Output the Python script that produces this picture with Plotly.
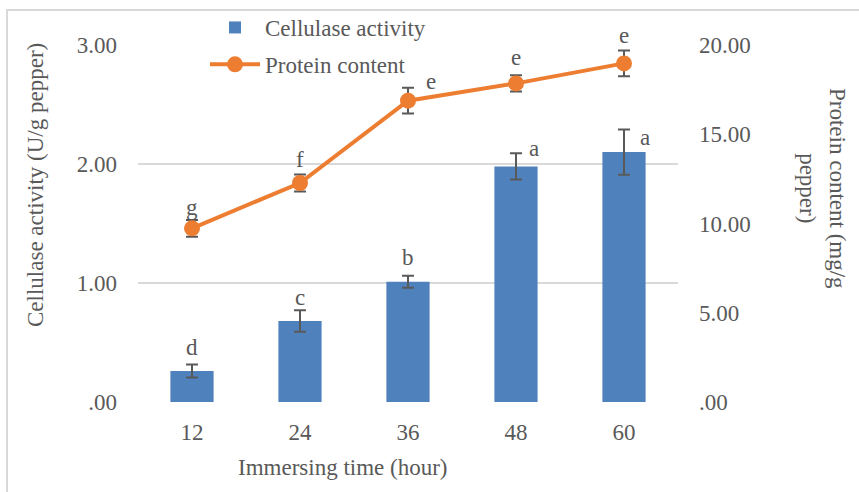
import plotly.graph_objects as go

# ---- data ----
hours = ["12", "24", "36", "48", "60"]
cellulase = [0.26, 0.68, 1.01, 1.98, 2.10]
cellulase_err = [0.055, 0.09, 0.05, 0.11, 0.19]
protein = [9.73, 12.27, 16.88, 17.85, 18.97]
protein_err = [0.47, 0.48, 0.72, 0.45, 0.72]
cellulase_letters = ["d", "c", "b", "a", "a"]
protein_letters = ["g", "f", "e", "e", "e"]
left_ticks = [0, 1, 2, 3]
left_ticktext = [".00", "1.00", "2.00", "3.00"]
right_ticks = [0, 5, 10, 15, 20]
right_ticktext = [".00", "5.00", "10.00", "15.00", "20.00"]

# ---- style ----
FONT = "Liberation Serif"
GREY = "#595959"
FS = 23
W, H = 859, 492
ML, MR, MT, MB = 138, 181, 45, 90
PW, PH = W - ML - MR, H - MT - MB

# label offsets (pixels)
cel_dx = [0, 0, 0, 18, 21]
cel_dy = [24, 24, 24, 18, 15]
pro_dx = [0, 0, 23, 0, 0]
pro_dy = [21, 23, 19, 26, 28]

fig = go.Figure()
fig.add_trace(go.Bar(
    x=hours, y=cellulase, name="Cellulase activity",
    marker=dict(color="#4F81BD", line=dict(width=0)),
    error_y=dict(type="data", array=cellulase_err, color=GREY, thickness=2, width=6),
    legendgroup="a", yaxis="y",
))
fig.add_trace(go.Scatter(
    x=hours, y=protein, name="Protein content", mode="lines+markers",
    line=dict(color="#ED7D31", width=4),
    marker=dict(color="#ED7D31", size=16),
    error_y=dict(type="data", array=protein_err, color=GREY, thickness=2, width=6),
    legendgroup="b", yaxis="y2",
))

ann = []
for i, h in enumerate(hours):
    ann.append(dict(x=i, y=cellulase[i], xref="x", yref="y", text=cellulase_letters[i],
                    showarrow=False, xshift=cel_dx[i], yshift=cel_dy[i],
                    xanchor="center", yanchor="middle",
                    font=dict(family=FONT, size=FS, color=GREY)))
    ann.append(dict(x=i, y=protein[i], xref="x", yref="y2", text=protein_letters[i],
                    showarrow=False, xshift=pro_dx[i], yshift=pro_dy[i],
                    xanchor="center", yanchor="middle",
                    font=dict(family=FONT, size=FS, color=GREY)))

def px_x(p):
    return (p - ML) / PW

def px_y(p):
    return (MT + PH - p) / PH

ann.append(dict(x=px_x(343), y=px_y(467), xref="paper", yref="paper",
                text="Immersing time (hour)", showarrow=False,
                xanchor="center", yanchor="middle",
                font=dict(family=FONT, size=FS, color=GREY)))
ann.append(dict(x=px_x(35), y=px_y(185), xref="paper", yref="paper",
                text="Cellulase activity (U/g pepper)", showarrow=False, textangle=-90,
                xanchor="center", yanchor="middle",
                font=dict(family=FONT, size=FS, color=GREY)))
ann.append(dict(x=px_x(823), y=px_y(188), xref="paper", yref="paper",
                text="Protein content (mg/g<br>pepper)", showarrow=False, textangle=90,
                xanchor="center", yanchor="middle",
                font=dict(family=FONT, size=FS, color=GREY)))

shapes = [
    dict(type="line", xref="paper", yref="paper", x0=px_x(6), x1=px_x(859),
         y0=px_y(10), y1=px_y(10), layer="above",
         line=dict(color="#d9d9d9", width=2)),
    dict(type="line", xref="paper", yref="paper", x0=px_x(7), x1=px_x(7),
         y0=px_y(9), y1=px_y(492), layer="above",
         line=dict(color="#d9d9d9", width=2)),
]

fig.update_layout(
    width=W, height=H,
    margin=dict(l=ML, r=MR, t=MT, b=MB, pad=0, autoexpand=False),
    paper_bgcolor="white", plot_bgcolor="rgba(0,0,0,0)",
    font=dict(family=FONT, size=FS, color=GREY),
    bargap=0.6,
    showlegend=True,
    legend=dict(x=205 / W, y=1 - 6 / H, xref="container", yref="container",
                xanchor="left", yanchor="top",
                bgcolor="rgba(255,255,255,0)", font=dict(family=FONT, size=FS, color=GREY),
                tracegroupgap=4, itemwidth=50),
    xaxis=dict(type="category", range=[-0.5, 4.5], autorange=False,
               showgrid=False, zeroline=False, showline=False,
               ticks="", ticklabelstandoff=14, tickfont=dict(family=FONT, size=FS, color=GREY)),
    yaxis=dict(range=[0, 3], tickvals=left_ticks, ticktext=left_ticktext,
               showgrid=True, gridcolor="#d9d9d9", gridwidth=1.5,
               zeroline=False, showline=False, ticks="", ticklabelstandoff=20,
               tickfont=dict(family=FONT, size=FS, color=GREY)),
    yaxis2=dict(range=[0, 20], tickvals=right_ticks, ticktext=right_ticktext,
                overlaying="y", side="right", showgrid=False, zeroline=False,
                showline=False, ticks="", ticklabelstandoff=20,
                tickfont=dict(family=FONT, size=FS, color=GREY)),
    annotations=ann,
    shapes=shapes,
)

post = (
    "document.body.style.margin='0';document.body.style.overflow='hidden';"
    "var t=document.createElement('div');"
    "t.style.cssText='position:absolute;left:6px;top:9px;width:853px;height:2px;"
    "background:#d9d9d9;pointer-events:none;z-index:10';document.body.appendChild(t);"
    "var l=document.createElement('div');"
    "l.style.cssText='position:absolute;left:6px;top:9px;width:2px;height:483px;"
    "background:#d9d9d9;pointer-events:none;z-index:10';document.body.appendChild(l);"
)

fig.write_html("out.html", config={"displayModeBar": False}, post_script=post)
